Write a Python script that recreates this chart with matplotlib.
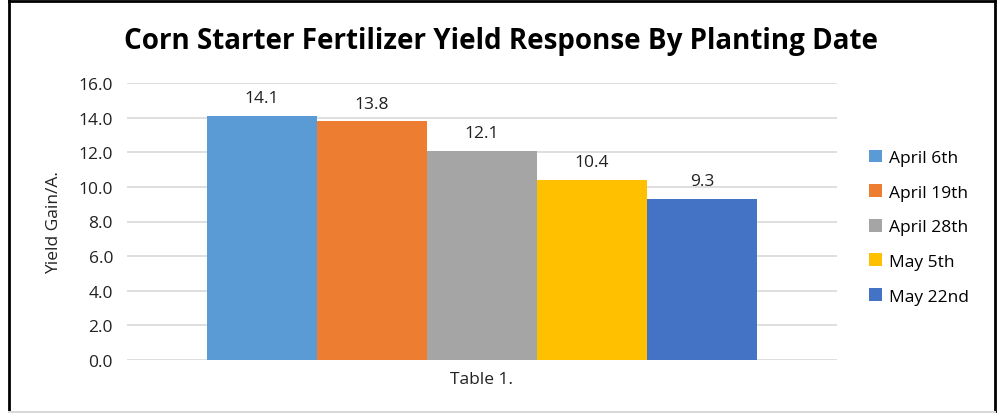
import matplotlib.pyplot as plt
from matplotlib.lines import Line2D

# ---- data ----
dates = ["April 6th", "April 19th", "April 28th", "May 5th", "May 22nd"]
yield_gain = [14.1, 13.8, 12.1, 10.4, 9.3]
colors = ["#5B9BD5", "#ED7D31", "#A5A5A5", "#FFC000", "#4472C4"]
category = "Table 1."

plt.rcParams["font.family"] = ["Open Sans", "DejaVu Sans"]

fig = plt.figure(figsize=(10.02, 4.14), dpi=100)
ax = fig.add_axes([127 / 1002, 1 - 361 / 414, 710 / 1002, (361 - 84) / 414])

bar_w = 110 / 710
n = len(dates)
for i, (d, v, c) in enumerate(zip(dates, yield_gain, colors)):
    x = (i - (n - 1) / 2) * bar_w
    ax.bar(x, v, width=bar_w, color=c, label=d, zorder=3)
    ax.text(x, v + 0.55, f"{v:.1f}", ha="center", va="bottom", fontsize=12.5, color="#222222")

ax.set_xlim(-0.5, 0.5)
ax.set_ylim(0, 16)
ax.set_yticks(range(0, 17, 2))
ax.set_yticklabels([f"{t:.1f}" for t in range(0, 17, 2)])
ax.set_xticks([0])
ax.set_xticklabels([category])
ax.grid(axis="y", color="#D9D9D9", linewidth=1.2, zorder=0)
for s in ax.spines.values():
    s.set_visible(False)
ax.tick_params(length=0, labelsize=12.5, colors="#222222", pad=10)
ax.tick_params(axis="x", pad=8)
ax.set_ylabel("Yield Gain/A.", fontsize=12.5, color="#222222", labelpad=12)

fig.text(0.5, 1 - 42 / 414, "Corn Starter Fertilizer Yield Response By Planting Date",
         ha="center", va="center", fontsize=20, fontweight="bold", color="black")

ax.legend(loc="center left", bbox_to_anchor=((862 - 127) / 710, 0.48), frameon=False,
          fontsize=12.5, handlelength=0.75, handleheight=0.75, handletextpad=0.4,
          labelspacing=1.05, borderaxespad=0)

# chart border
fig.add_artist(Line2D([9 / 1002, 9 / 1002], [0, 1 - 2 / 414], transform=fig.transFigure, color="black", lw=2))
fig.add_artist(Line2D([9 / 1002, 995 / 1002], [1 - 2 / 414, 1 - 2 / 414], transform=fig.transFigure, color="black", lw=2))
fig.add_artist(Line2D([995 / 1002, 995 / 1002], [0, 1 - 2 / 414], transform=fig.transFigure, color="black", lw=2))
fig.add_artist(Line2D([9 / 1002, 995 / 1002], [1 / 414, 1 / 414], transform=fig.transFigure, color="#D9D9D9", lw=1.5))

fig.savefig("out.png", dpi=100)
